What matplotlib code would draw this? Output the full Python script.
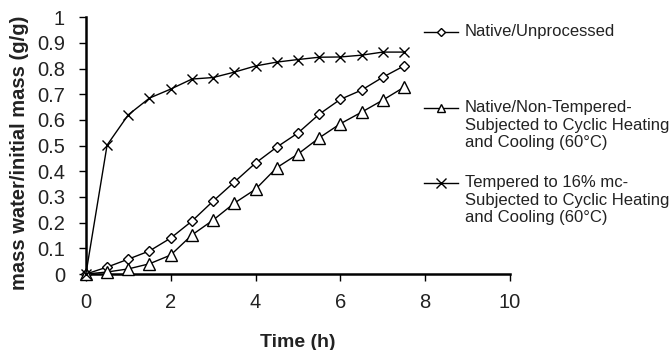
import matplotlib
matplotlib.use("Agg")
import matplotlib.pyplot as plt
from matplotlib.lines import Line2D

plt.rcParams['font.family'] = ['Liberation Sans', 'DejaVu Sans']

time_h = [0, 0.5, 1, 1.5, 2, 2.5, 3, 3.5, 4, 4.5, 5, 5.5, 6, 6.5, 7, 7.5]
native = [0, 0.027, 0.058, 0.09, 0.14, 0.206, 0.284, 0.358, 0.432, 0.494,
          0.549, 0.622, 0.68, 0.716, 0.766, 0.81]
non_tempered = [0, 0.008, 0.02, 0.04, 0.074, 0.152, 0.21, 0.276, 0.33, 0.414,
                0.467, 0.53, 0.585, 0.63, 0.677, 0.727]
tempered = [0, 0.502, 0.62, 0.685, 0.72, 0.759, 0.765, 0.786, 0.81, 0.825,
            0.835, 0.844, 0.845, 0.852, 0.864, 0.864]

labels = ["Native/Unprocessed",
          "Native/Non-Tempered-\nSubjected to Cyclic Heating\nand Cooling (60°C)",
          "Tempered to 16% mc-\nSubjected to Cyclic Heating\nand Cooling (60°C)"]

x_ticks = [0, 2, 4, 6, 8, 10]
y_ticks = [0, 0.1, 0.2, 0.3, 0.4, 0.5, 0.6, 0.7, 0.8, 0.9, 1]
y_ticklabels = ["0", "0.1", "0.2", "0.3", "0.4", "0.5", "0.6", "0.7", "0.8", "0.9", "1"]

fig = plt.figure(figsize=(6.71, 3.5), dpi=100)
ax = fig.add_axes([0.128, 0.217, 0.632, 0.734])

styles = [dict(marker='D', ms=5.5), dict(marker='^', ms=8), dict(marker='x', ms=7.5, mew=1.0)]
leg_styles = [dict(marker='D', ms=4.5), dict(marker='^', ms=6), dict(marker='x', ms=6.5, mew=1.0)]
series = [native, non_tempered, tempered]
for ys, st in zip(series, styles):
    ax.plot(time_h, ys, color='black', lw=1.0, mfc='white', mec='black',
            clip_on=False, zorder=3, **st)

ax.set_xlim(0, 10)
ax.set_ylim(0, 1)
ax.set_xticks(x_ticks)
ax.set_xticklabels([str(t) for t in x_ticks])
ax.set_yticks(y_ticks)
ax.set_yticklabels(y_ticklabels)
ax.spines['top'].set_visible(False)
ax.spines['right'].set_visible(False)
ax.spines['left'].set_linewidth(1.8)
ax.spines['bottom'].set_linewidth(1.8)
ax.tick_params(axis='both', labelsize=14.5, width=1.0, length=5, color='black',
               labelcolor='#222222')
ax.tick_params(axis='x', pad=9)
ax.tick_params(axis='y', pad=10)
ax.set_xlabel("Time (h)", fontsize=14, fontweight='bold', color='#222222')
ax.xaxis.set_label_coords(0.5, -0.232)
ax.set_ylabel("mass water/initial mass (g/g)", fontsize=14.5, fontweight='bold',
              color='#222222')
ax.yaxis.set_label_coords(-0.134, 0.47)

# manual legend (figure coordinates), marker aligned with first text line
W, H = 671, 350
leg_rows = [32, 108, 183]
for (yp, st, lab) in zip(leg_rows, leg_styles, labels):
    y = 1 - yp / H
    fig.add_artist(Line2D([424 / W, 458 / W], [y, y], color='black', lw=1.0,
                          transform=fig.transFigure))
    fig.add_artist(Line2D([441 / W], [y], color='black', lw=0, mfc='white', mec='black',
                          transform=fig.transFigure, **st))
    fig.text(465 / W, 1 - (yp - 8) / H, lab, fontsize=12, ha='left', va='top',
             color='#222222', linespacing=1.22, transform=fig.transFigure)

fig.savefig("out.png", dpi=100)
